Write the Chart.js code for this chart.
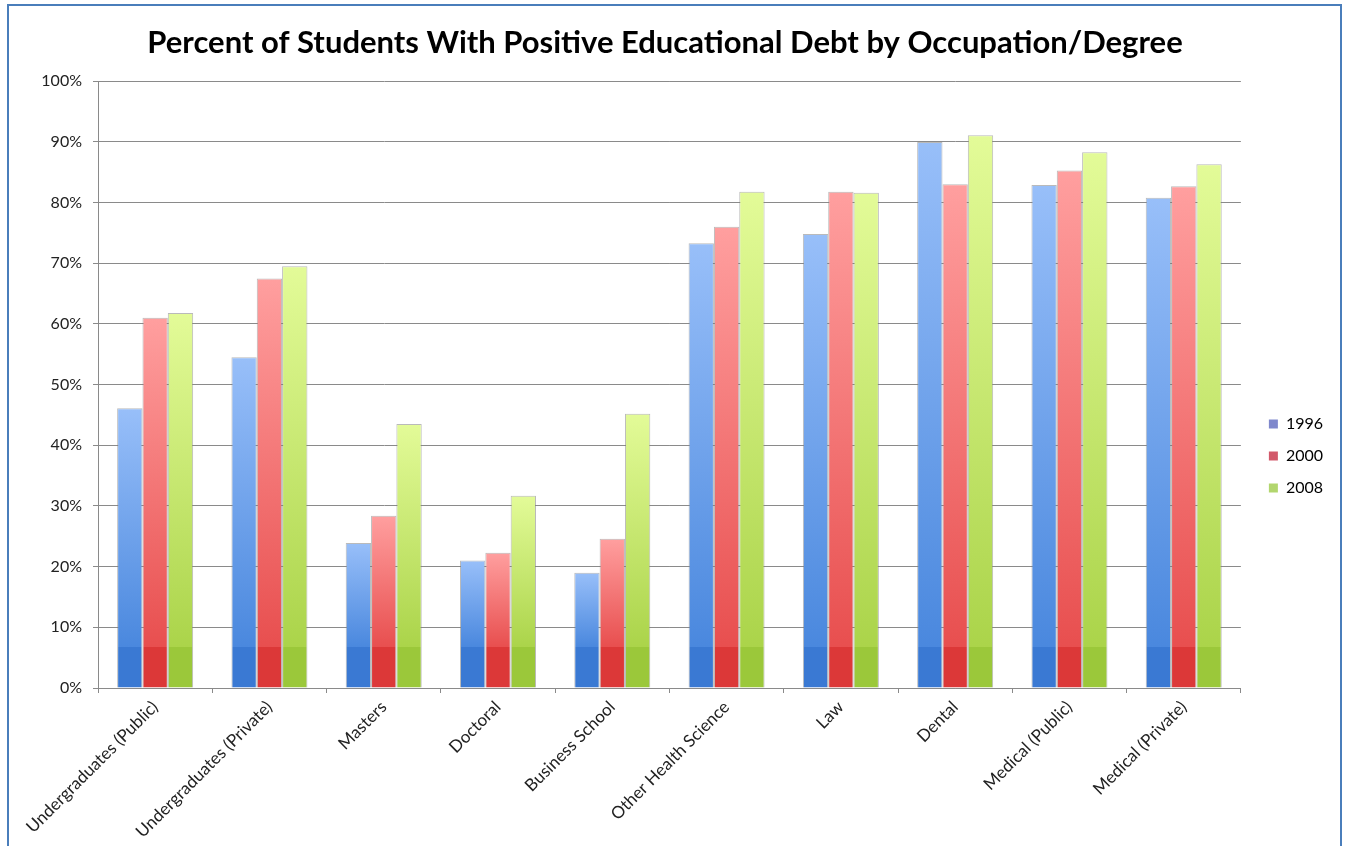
<!DOCTYPE html>
<html>
<head>
<meta charset="utf-8">
<script src="https://cdn.jsdelivr.net/npm/chart.js@4"></script>
<style>
  html, body { margin: 0; padding: 0; background: #fff; overflow: hidden; }
  #frame {
    position: absolute; left: 7px; top: 4px;
    width: 1331px; height: 900px;
    border: 2px solid #4a7ebb;
    background: #fff;
  }
  #chart { display: block; }
</style>
</head>
<body>
<div id="frame"><canvas id="chart" width="1331" height="900"></canvas></div>
<script>
const categories = ['Undergraduates (Public)', 'Undergraduates (Private)', 'Masters', 'Doctoral',
  'Business School', 'Other Health Science', 'Law', 'Dental', 'Medical (Public)', 'Medical (Private)'];
const years = ['1996', '2000', '2008'];
const debt1996 = [46.1, 54.5, 23.9, 21.0, 19.0, 73.3, 74.8, 90.0, 82.9, 80.8];
const debt2000 = [61.0, 67.5, 28.4, 22.3, 24.6, 76.0, 81.8, 83.0, 85.3, 82.7];
const debt2008 = [61.8, 69.5, 43.5, 31.7, 45.2, 81.8, 81.6, 91.1, 88.3, 86.3];
const yTicks = [0, 10, 20, 30, 40, 50, 60, 70, 80, 90, 100];

const FONT = 'Lato, "Open Sans", sans-serif';

// top, lower body, bottom band, legend swatch
const palettes = [
  { top: '#98bff9', low: '#4a88de', band: '#3a79d3', key: '#7f88cc' },
  { top: '#ff9f9f', low: '#e84f4f', band: '#dc3838', key: '#d2596a' },
  { top: '#e3fb98', low: '#abd44a', band: '#9bc83a', key: '#b2d66e' }
];

// Excel-like vertical shading per bar, with a darker strip near the base
function barFill(p) {
  return function (ctx) {
    const chart = ctx.chart;
    if (!chart.chartArea || ctx.type !== 'data') return p.low;
    const y = chart.scales.y;
    const top = y.getPixelForValue(ctx.raw);
    const base = y.getPixelForValue(0);
    if (base - top < 1) return p.band;
    const bandY = y.getPixelForValue(6.8);
    const f = Math.min(1, Math.max(0, (bandY - top) / (base - top)));
    const g = chart.ctx.createLinearGradient(0, top, 0, base);
    g.addColorStop(0, p.top);
    g.addColorStop(f, p.low);
    g.addColorStop(Math.min(1, f + 0.0001), p.band);
    g.addColorStop(1, p.band);
    return g;
  };
}

const seriesValues = [debt1996, debt2000, debt2008];

// keep a small gap between the plot and the legend keys
const legendShift = {
  id: 'legendShift',
  afterLayout(chart) {
    const lg = chart.legend;
    lg.left += 12;
    lg.right += 12;
  }
};

new Chart(document.getElementById('chart'), {
  type: 'bar',
  data: {
    labels: categories,
    datasets: years.map((yr, i) => ({
      label: yr,
      data: seriesValues[i],
      backgroundColor: barFill(palettes[i]),
      borderColor: 'rgba(130,130,130,0.55)',
      borderWidth: 1,
      categoryPercentage: 0.665,
      barPercentage: 1.0
    }))
  },
  plugins: [legendShift],
  options: {
    responsive: false,
    animation: false,
    layout: { padding: { left: 0, right: 19, top: 0, bottom: 0 } },
    plugins: {
      title: {
        display: true,
        text: 'Percent of Students With Positive Educational Debt by Occupation/Degree',
        color: '#000',
        font: { family: FONT, size: 31, weight: 'bold' },
        padding: { top: 18, bottom: 20 }
      },
      legend: {
        position: 'right',
        align: 'center',
        labels: {
          color: '#222',
          font: { family: FONT, size: 16 },
          boxWidth: 9,
          boxHeight: 9,
          padding: 16,
          generateLabels(chart) {
            return chart.data.datasets.map((ds, i) => ({
              text: ds.label,
              fillStyle: palettes[i].key,
              strokeStyle: palettes[i].key,
              lineWidth: 0,
              datasetIndex: i
            }));
          }
        }
      },
      tooltip: { enabled: false }
    },
    scales: {
      x: {
        grid: { display: true, drawOnChartArea: false, offset: true, tickLength: 5, color: '#8a8a8a' },
        border: { color: '#8a8a8a' },
        ticks: {
          color: '#222',
          font: { family: FONT, size: 17 },
          minRotation: 45,
          maxRotation: 45,
          autoSkip: false,
          padding: 4
        },
        afterFit(scale) { scale.height = 218; }
      },
      y: {
        min: 0,
        max: 100,
        afterBuildTicks(scale) { scale.ticks = yTicks.map(v => ({ value: v })); },
        grid: { color: '#8a8a8a', tickLength: 5 },
        border: { color: '#8a8a8a' },
        ticks: {
          color: '#222',
          font: { family: FONT, size: 16 },
          padding: 11,
          callback: v => v + '%'
        },
        afterFit(scale) { scale.width = 89; }
      }
    }
  }
});
</script>
</body>
</html>
